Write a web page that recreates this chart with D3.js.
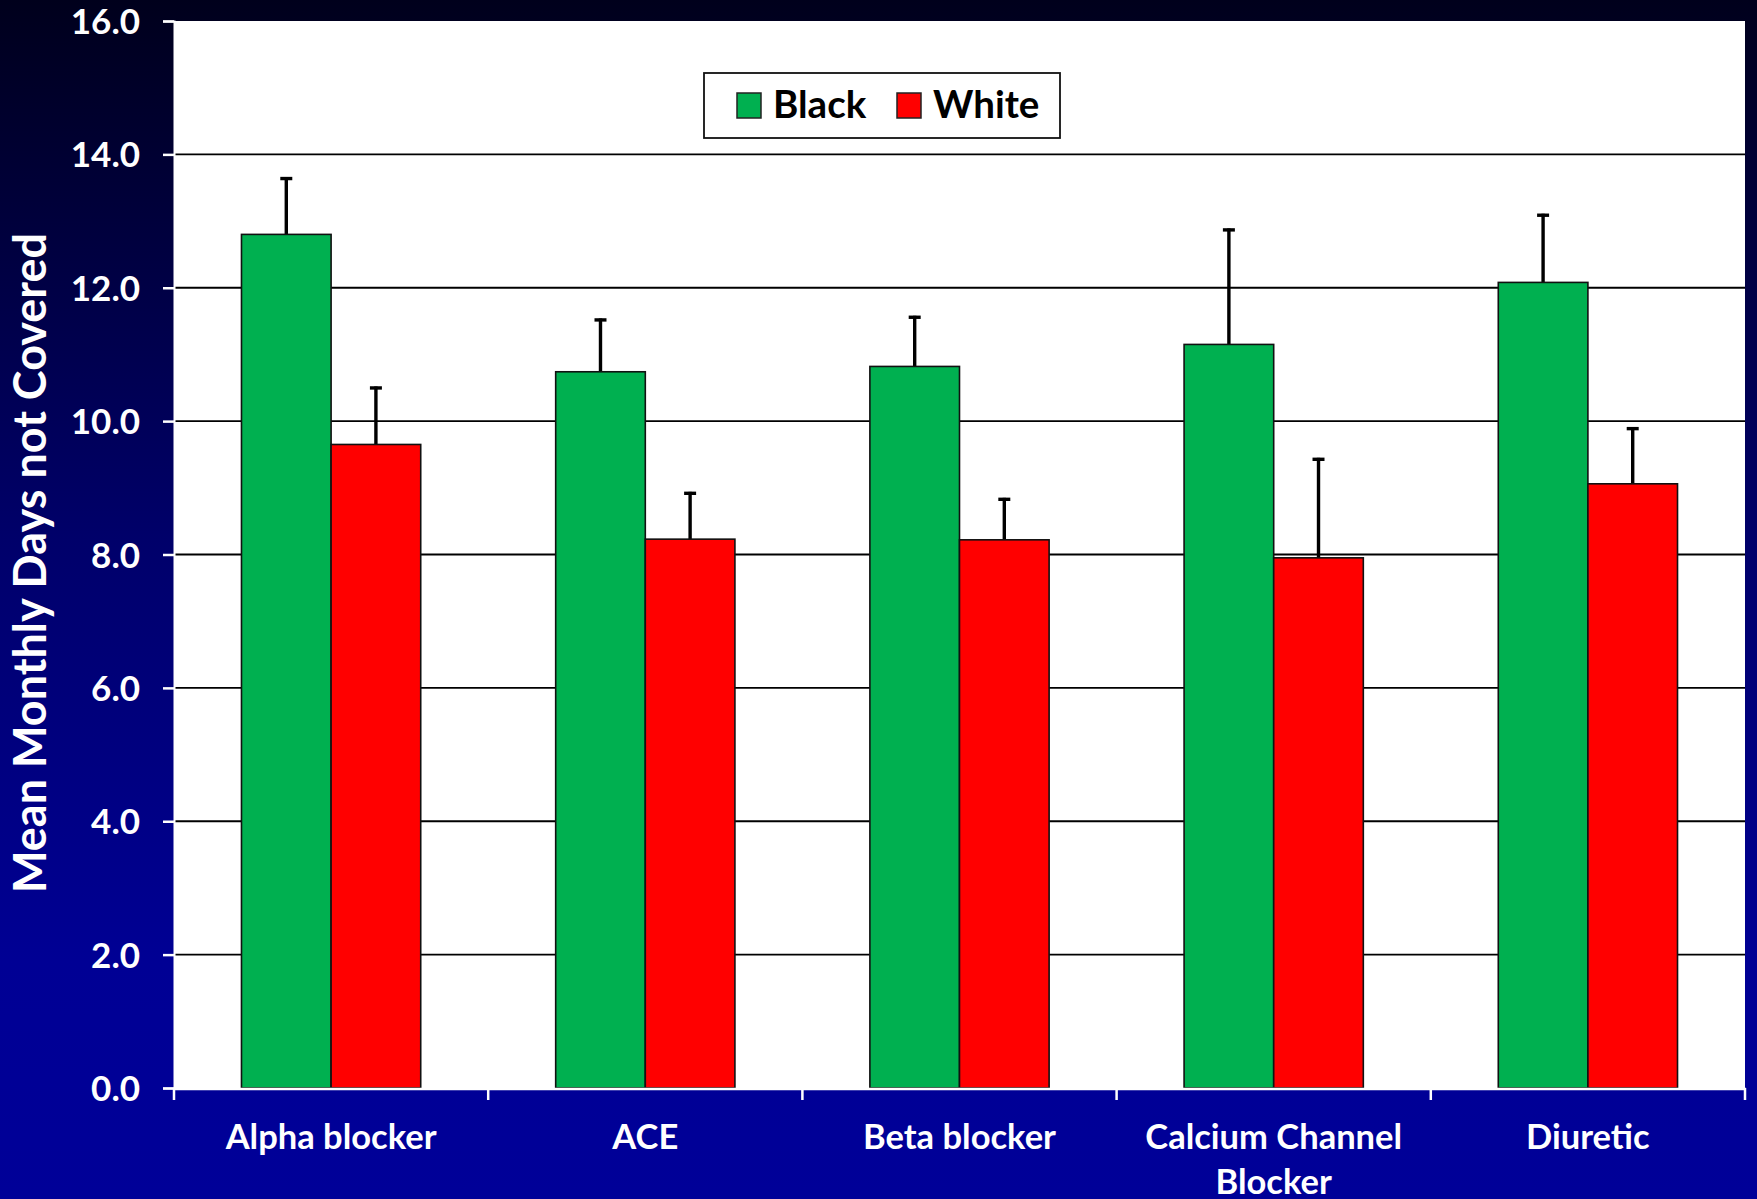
<!DOCTYPE html>
<html>
<head>
<meta charset="utf-8">
<script src="https://cdn.jsdelivr.net/npm/d3@7"></script>
<style>
  html, body { margin: 0; padding: 0; background: #000060; }
  svg { display: block; }
  text { font-family: Lato, "Open Sans", sans-serif; font-weight: bold; }
</style>
</head>
<body>
<svg id="chart" width="1757" height="1199"></svg>
<script>
// ---- data ----
const categories = ["Alpha blocker", "ACE", "Beta blocker", "Calcium Channel\nBlocker", "Diuretic"];
const seriesNames = ["Black", "White"];
const blackValues = [12.80, 10.74, 10.82, 11.15, 12.08];
const whiteValues = [9.65, 8.23, 8.22, 7.95, 9.06];
const blackErrors = [0.86, 0.80, 0.76, 1.74, 1.03];
const whiteErrors = [0.87, 0.71, 0.63, 1.50, 0.85];
const yTicks = [0, 2, 4, 6, 8, 10, 12, 14, 16];
const yTitle = "Mean Monthly Days not Covered";
const seriesColors = ["#00B050", "#FF0000"];

// ---- layout ----
const W = 1757, H = 1199;
const plot = { left: 174, right: 1745, top: 21, bottom: 1088 };

const svg = d3.select("#chart");

// background gradient
const defs = svg.append("defs");
const grad = defs.append("linearGradient").attr("id", "bg")
  .attr("x1", 0).attr("y1", 0).attr("x2", 0).attr("y2", 1);
grad.append("stop").attr("offset", "0%").attr("stop-color", "#00001c");
grad.append("stop").attr("offset", "45%").attr("stop-color", "#00006a");
grad.append("stop").attr("offset", "80%").attr("stop-color", "#000094");
grad.append("stop").attr("offset", "100%").attr("stop-color", "#000098");
svg.append("rect").attr("width", W).attr("height", H).attr("fill", "url(#bg)");

// scales
const x0 = d3.scaleBand().domain(categories).range([plot.left, plot.right]).paddingInner(0).paddingOuter(0);
const x1 = d3.scaleBand().domain(seriesNames).range([0, x0.bandwidth()]).paddingInner(0).paddingOuter(0.753);
const y = d3.scaleLinear().domain([0, 16]).range([plot.bottom, plot.top]);

// plot area
svg.append("rect")
  .attr("x", plot.left).attr("y", plot.top)
  .attr("width", plot.right - plot.left).attr("height", plot.bottom - plot.top)
  .attr("fill", "#ffffff");

// gridlines
svg.append("g").selectAll("line")
  .data(yTicks.filter(t => t > 0 && t < 16))
  .join("line")
  .attr("x1", plot.left).attr("x2", plot.right)
  .attr("y1", d => y(d)).attr("y2", d => y(d))
  .attr("stroke", "#000").attr("stroke-width", 1.8);

// data rows
const rows = categories.map((c, i) => ({
  cat: c,
  vals: [
    { s: "Black", v: blackValues[i], e: blackErrors[i], color: seriesColors[0] },
    { s: "White", v: whiteValues[i], e: whiteErrors[i], color: seriesColors[1] }
  ]
}));

const groups = svg.append("g").selectAll("g")
  .data(rows).join("g")
  .attr("transform", d => `translate(${x0(d.cat)},0)`);

// error bars
groups.selectAll("line.err")
  .data(d => d.vals).join("line")
  .attr("class", "err")
  .attr("x1", d => x1(d.s) + x1.bandwidth() / 2)
  .attr("x2", d => x1(d.s) + x1.bandwidth() / 2)
  .attr("y1", d => y(d.v))
  .attr("y2", d => y(d.v + d.e))
  .attr("stroke", "#000").attr("stroke-width", 3.4);

groups.selectAll("line.cap")
  .data(d => d.vals).join("line")
  .attr("class", "cap")
  .attr("x1", d => x1(d.s) + x1.bandwidth() / 2 - 6)
  .attr("x2", d => x1(d.s) + x1.bandwidth() / 2 + 6)
  .attr("y1", d => y(d.v + d.e) + 1.5)
  .attr("y2", d => y(d.v + d.e) + 1.5)
  .attr("stroke", "#000").attr("stroke-width", 3.4);

groups.selectAll("rect")
  .data(d => d.vals).join("rect")
  .attr("x", d => x1(d.s))
  .attr("y", d => y(d.v))
  .attr("width", x1.bandwidth())
  .attr("height", d => y(0) - y(d.v))
  .attr("fill", d => d.color)
  .attr("stroke", "#111").attr("stroke-width", 1.6);

// y axis
const yAxis = d3.axisLeft(y).tickValues(yTicks).tickFormat(d3.format(".1f")).tickSize(11).tickPadding(23);
const gy = svg.append("g").attr("transform", `translate(${plot.left},0)`).call(yAxis);
gy.select(".domain").attr("stroke", "#fff").attr("stroke-width", 2);
gy.selectAll(".tick line").attr("stroke", "#fff").attr("stroke-width", 2.5);
gy.selectAll(".tick text").attr("fill", "#fff").attr("font-size", 35)
  .attr("font-family", "Lato, sans-serif").attr("font-weight", "bold").attr("dy", "0.36em");

// x axis line
svg.append("line")
  .attr("x1", plot.left - 1).attr("x2", plot.right + 1)
  .attr("y1", plot.bottom + 1).attr("y2", plot.bottom + 1)
  .attr("stroke", "#fff").attr("stroke-width", 2.5);

// x boundary ticks
const boundaries = categories.map(c => x0(c)).concat([x0(categories[categories.length - 1]) + x0.bandwidth()]);
svg.append("g").selectAll("line")
  .data(boundaries).join("line")
  .attr("x1", d => d).attr("x2", d => d)
  .attr("y1", plot.bottom).attr("y2", plot.bottom + 12)
  .attr("stroke", "#fff").attr("stroke-width", 2.5);

// x labels
const xl = svg.append("g").selectAll("text")
  .data(categories).join("text")
  .attr("x", d => x0(d) + x0.bandwidth() / 2)
  .attr("y", plot.bottom + 61)
  .attr("text-anchor", "middle")
  .attr("fill", "#fff")
  .attr("font-size", 34.5);
xl.selectAll("tspan")
  .data(d => d.split("\n").map((t, i) => ({ t, i, cx: x0(d) + x0.bandwidth() / 2 })))
  .join("tspan")
  .attr("x", d => d.cx)
  .attr("dy", d => d.i === 0 ? 0 : 45)
  .text(d => d.t);

// y title
svg.append("text")
  .attr("transform", "translate(46,563) rotate(-90)")
  .attr("text-anchor", "middle")
  .attr("fill", "#fff")
  .attr("font-size", 45)
  .text(yTitle);

// legend
const lg = svg.append("g");
lg.append("rect").attr("x", 704).attr("y", 73).attr("width", 356).attr("height", 65)
  .attr("fill", "#fff").attr("stroke", "#111").attr("stroke-width", 1.8);
const legendItems = lg.selectAll("g").data(seriesNames).join("g")
  .attr("transform", (d, i) => `translate(${[737, 897][i]},93)`);
legendItems.append("rect").attr("width", 24).attr("height", 25)
  .attr("fill", (d, i) => seriesColors[i]).attr("stroke", "#222").attr("stroke-width", 1.5);
legendItems.append("text").attr("x", 36).attr("y", 24.5)
  .attr("fill", "#000").attr("font-size", 38.5).text(d => d);
</script>
</body>
</html>
